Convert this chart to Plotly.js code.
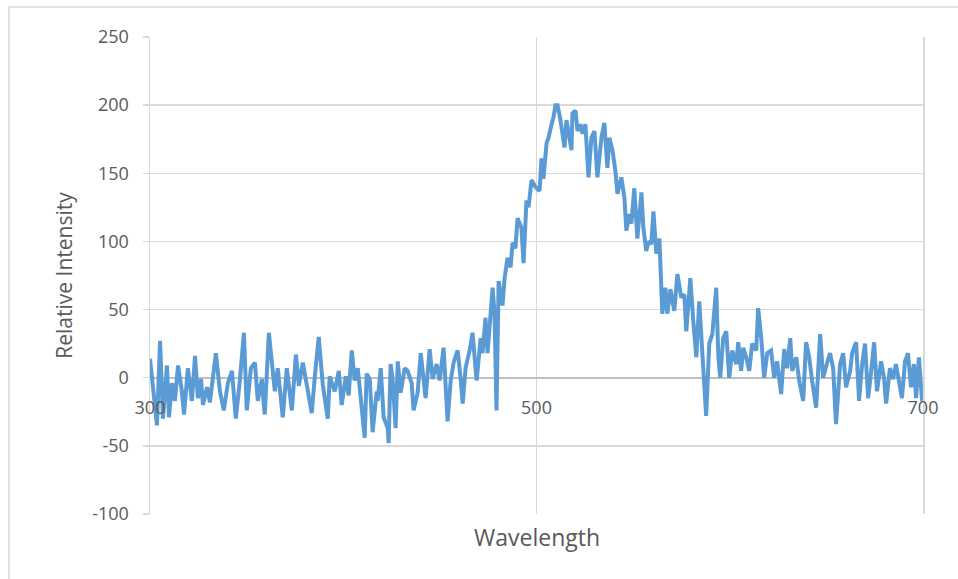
<!DOCTYPE html>
<html>
<head>
<meta charset="utf-8">
<script src="https://cdn.plot.ly/plotly-3.0.1.min.js"></script>
<style>html,body{margin:0;padding:0;background:#fff;}#chart{width:958px;height:579px;}</style>
</head>
<body>
<div id="chart"></div>
<script>
var wavelength = [300.0,303.6,305.2,306.7,308.8,309.8,311.4,312.9,314.5,316.5,317.6,319.6,321.7,323.3,324.8,326.4,327.4,329.5,331.0,334.1,336.2,338.2,340.3,342.4,344.4,346.5,348.6,350.1,352.2,354.3,355.8,357.9,358.9,
359.4,361.5,363.6,364.6,366.1,368.7,370.8,373.4,375.5,377.0,379.1,381.1,383.7,385.3,387.3,389.4,392.0,393.0,395.6,397.7,399.2,401.3,402.8,404.4,405.9,407.5,409.6,411.1,412.1,413.7,415.2,417.3,
417.8,419.4,420.9,423.0,423.5,424.5,425.6,427.1,428.2,429.7,431.8,433.3,435.4,436.4,438.5,440.1,442.6,444.7,446.3,448.3,449.9,451.9,454.0,455.6,457.1,459.2,460.7,461.8,463.3,465.4,
466.9,469.0,471.1,472.1,473.6,474.7,477.3,478.3,479.3,480.4,482.4,483.5,485.0,486.6,487.6,489.1,490.2,492.2,493.3,494.8,495.9,497.4,499.5,501.6,502.6,503.6,505.2,506.2,507.8,508.8,509.8,510.9,512.4,513.4,514.5,515.5,516.5,518.1,518.6,520.2,521.2,522.7,523.8,525.3,526.9,528.4,530.0,531.5,533.6,535.1,536.7,537.7,539.3,540.8,541.9,543.9,545.5,546.5,548.1,549.1,550.6,552.2,554.3,555.3,556.8,557.9,559.4,560.5,562.0,563.6,565.1,566.7,567.7,569.3,571.3,572.9,574.9,576.5,577.5,579.6,581.1,582.7,584.2,585.8,587.8,589.4,591.0,593.0,594.1,595.1,596.6,598.2,599.7,601.3,603.4,604.4,605.9,607.0,608.5,610.1,611.6,613.7,614.7,616.3,617.8,619.4,621.4,623.0,624.5,626.6,628.2,629.7,631.3,632.3,634.4,635.9,638.0,639.5,641.1,642.6,644.7,646.8,648.3,650.4,651.9,653.5,655.0,657.1,658.7,660.2,662.3,663.3,665.4,666.9,668.5,670.0,671.6,673.6,674.7,676.2,678.3,679.8,680.9,682.9,684.5,686.0,688.1,689.1,690.7,692.2,693.8,695.3,696.4,697.9,699.5];
var intensity = [14,-35,27,-30,9,-29,-4,-17,9,-10,-27,7,-17,16,-15,-1,-20,-7,-18,18,-10,-24,-4,5,-30,-2,33,-24,7,11,-17,-1,-20,
-27,33,0,-10,7,-29,7,-24,17,-6,11,-7,-26,1,30,-5,-30,1,-10,5,-20,1,-13,20,-2,7,-24,-44,3,-1,-40,-10,
-17,7,-29,-37,-48,10,-2,-37,12,-11,7,5,-4,-24,-11,18,-15,21,-1,10,-2,22,-32,-2,11,20,0,-19,7,20,
33,-2,29,18,44,18,66,47,-24,71,53,73,88,81,99,95,117,110,84,130,125,145,140,137,161,146,172,176,186,191,200,200,189,179,169,189,179,167,194,196,181,186,179,186,147,176,181,147,176,187,154,176,167,152,135,147,132,108,120,113,139,102,136,110,93,100,98,122,91,102,47,66,47,65,49,76,59,61,34,73,42,15,56,18,-28,25,32,66,15,0,29,34,0,20,10,26,5,22,15,5,25,20,51,29,0,18,20,0,12,-12,21,7,29,5,15,-2,-17,26,15,-2,-22,32,0,11,18,7,-34,10,18,-7,5,18,26,-17,10,25,-15,10,26,-10,12,0,-19,7,-1,10,-7,-15,12,18,-7,10,-15,15,-17];

var xTickVals = [300, 500, 700];
var xTickText = ['300', '500', '700'];
var yTickVals = [-100, -50, 0, 50, 100, 150, 200, 250];
var yTickText = ['-100', '-50', '0', '50', '100', '150', '200', '250'];

var font = 'Open Sans, Liberation Sans, sans-serif';
var trace = {
  x: wavelength, y: intensity, type: 'scatter', mode: 'lines',
  line: {color: '#5B9BD5', width: 4}, hoverinfo: 'none'
};
var layout = {
  width: 958, height: 579,
  margin: {l: 150, r: 35, t: 37, b: 65},
  paper_bgcolor: '#ffffff', plot_bgcolor: '#ffffff',
  showlegend: false,
  xaxis: {
    range: [300, 700], tickvals: xTickVals, ticktext: xTickText,
    showgrid: true, gridcolor: '#d9d9d9', gridwidth: 1.5,
    zeroline: false, showline: false, ticks: '',
    anchor: 'free', position: 0.2872, ticklabelstandoff: 18,
    tickfont: {family: font, size: 18, color: '#595959'}
  },
  yaxis: {
    range: [-100, 250], tickvals: yTickVals, ticktext: yTickText,
    showgrid: true, gridcolor: '#d9d9d9', gridwidth: 1.5,
    zeroline: true, zerolinecolor: '#bfbfbf', zerolinewidth: 2,
    showline: true, linecolor: '#d9d9d9', linewidth: 1.5, mirror: true,
    ticks: 'outside', ticklen: 6, tickcolor: '#d9d9d9', tickwidth: 1.5,
    ticklabelstandoff: 10,
    tickfont: {family: font, size: 18, color: '#595959'},
    title: {text: 'Relative Intensity', font: {family: font, size: 21, color: '#595959'}, standoff: 14}
  },
  annotations: [{
    text: 'Wavelength', xref: 'paper', yref: 'paper', x: 0.5, y: -0.01,
    xanchor: 'center', yanchor: 'top', showarrow: false,
    font: {family: font, size: 23, color: '#595959'}
  }],
  shapes: [{
    type: 'rect', xref: 'paper', yref: 'paper',
    x0: -0.1824, x1: 1.06, y0: -0.16, y1: 1.0629,
    line: {color: '#d9d9d9', width: 1.5}, fillcolor: 'rgba(0,0,0,0)', layer: 'below'
  }]
};
Plotly.newPlot('chart', [trace], layout, {staticPlot: true, displayModeBar: false});
</script>
</body>
</html>
